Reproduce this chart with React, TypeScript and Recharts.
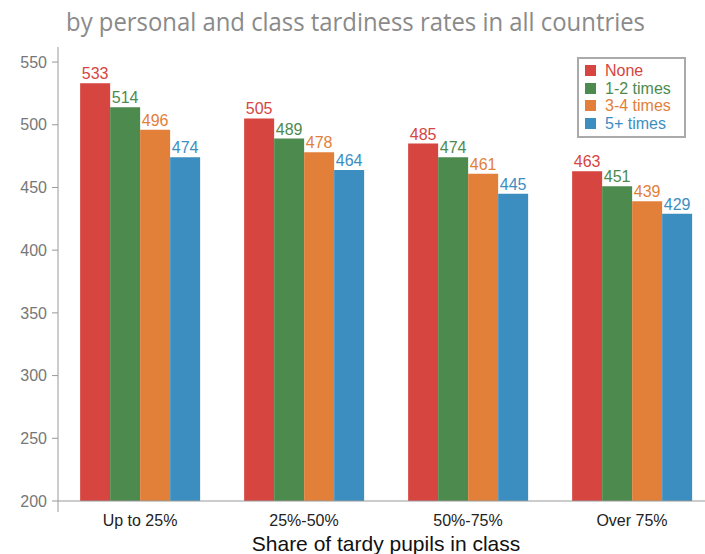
import { BarChart, Bar, XAxis, YAxis, LabelList, Label } from 'recharts';

const categories = ['Up to 25%', '25%-50%', '50%-75%', 'Over 75%'];
const noneValues = [533, 505, 485, 463];
const oneTwoValues = [514, 489, 474, 451];
const threeFourValues = [496, 478, 461, 439];
const fivePlusValues = [474, 464, 445, 429];
const yTicks = [200, 250, 300, 350, 400, 450, 500, 550];

const seriesList = [
  { key: 'none', name: 'None', color: '#d6453f' },
  { key: 'oneTwo', name: '1-2 times', color: '#4d8a4e' },
  { key: 'threeFour', name: '3-4 times', color: '#e2803a' },
  { key: 'fivePlus', name: '5+ times', color: '#3c8ec1' },
];

const data = categories.map((name, i) => ({
  name,
  none: noneValues[i],
  oneTwo: oneTwoValues[i],
  threeFour: threeFourValues[i],
  fivePlus: fivePlusValues[i],
}));

const axisFont = 'Arial, "Liberation Sans", sans-serif';

function LegendBox() {
  return (
    <div
      style={{
        position: 'absolute',
        left: 577,
        top: 57,
        width: 99,
        border: '2px solid #aaa',
        background: '#fff',
        padding: '3px 0 4px 6px',
        fontFamily: axisFont,
        fontSize: 16,
        lineHeight: '17.5px',
      }}
    >
      {seriesList.map(s => (
        <div key={s.key} style={{ display: 'flex', alignItems: 'center', color: s.color }}>
          <span style={{ width: 11, height: 11, background: s.color, marginRight: 9, display: 'inline-block' }} />
          {s.name}
        </div>
      ))}
    </div>
  );
}

// y tick text, plus the little stub of the y axis that pokes below the x axis
function YTick(props: any) {
  const { x, y, payload } = props;
  return (
    <g>
      <text x={x} y={y} dy="0.355em" textAnchor="end" fill="#777" fontSize={16} fontFamily={axisFont}>
        {payload.value}
      </text>
      {payload.value === 200 && <line x1={x + 11} y1={y} x2={x + 11} y2={y + 11} stroke="#999" />}
    </g>
  );
}

export default function App() {
  return (
    <div style={{ position: 'absolute', left: 0, top: 0, width: 705, height: 554, overflow: 'hidden', background: '#fff' }}>
      <div
        style={{
          position: 'absolute',
          top: 3,
          left: 0,
          width: 711,
          textAlign: 'center',
          fontFamily: '"Open Sans", sans-serif',
          fontSize: 26,
          color: '#8a8a8a',
          transform: 'scaleX(0.918)',
          whiteSpace: 'nowrap',
        }}
      >
        by personal and class tardiness rates in all countries
      </div>
      <BarChart
        width={720}
        height={554}
        data={data}
        margin={{ top: 47, right: 6, bottom: 0, left: 8 }}
        barCategoryGap="13.5%"
        barGap={0}
      >
        <XAxis
          dataKey="name"
          height={53}
          tickLine={false}
          tickMargin={8}
          stroke="#999"
          tick={{ fill: '#222', fontSize: 16, fontFamily: axisFont }}
        >
          <Label
            value="Share of tardy pupils in class"
            position="insideBottom"
            offset={3}
            style={{ fill: '#111', fontSize: 21, fontFamily: axisFont }}
          />
        </XAxis>
        <YAxis
          width={50}
          domain={[200, 562]}
          ticks={yTicks}
          allowDataOverflow
          stroke="#999"
          tickMargin={5}
          tick={<YTick />}
        />
        {seriesList.map(s => (
          <Bar key={s.key} dataKey={s.key} name={s.name} fill={s.color} isAnimationActive={false}>
            <LabelList
              dataKey={s.key}
              position="top"
              offset={4}
              style={{ fill: s.color, fontSize: 16, fontFamily: axisFont }}
            />
          </Bar>
        ))}
      </BarChart>
      <LegendBox />
    </div>
  );
}
